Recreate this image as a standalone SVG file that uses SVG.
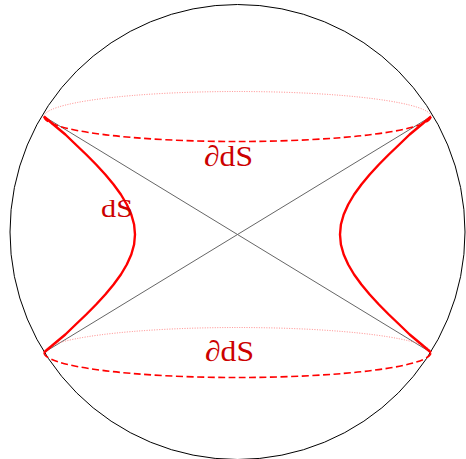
<svg xmlns="http://www.w3.org/2000/svg" width="466" height="459" viewBox="0 0 466 459">
<style>
.back{fill:none;stroke:#ff6666;stroke-width:0.8;stroke-dasharray:1,1.5}
.front{fill:none;stroke:#ff0000;stroke-width:1.6;stroke-dasharray:7,3.5}
.hyp{fill:none;stroke:#ff0000;stroke-width:2.4;stroke-linejoin:round}
.lbl{font-family:"Liberation Serif","DejaVu Serif",serif;font-size:29px;fill:#cc0000}
</style>
<rect width="466" height="459" fill="#ffffff"/>
<g id="sphere"><circle cx="237.5" cy="232" r="227.5" fill="none" stroke="#000" stroke-width="1"/></g>
<g id="connectors">
<line x1="44" y1="116.5" x2="431" y2="352.5" stroke="#666" stroke-width="1"/>
<line x1="431" y1="116.5" x2="44" y2="352.5" stroke="#666" stroke-width="1"/>
</g>
<g id="top-boundary">
<path class="back" d="M44,116.5 A193.5,25 0 0 1 431,116.5"/>
<path class="front" d="M44,116.5 A193.5,25 0 0 0 431,116.5"/>
</g>
<g id="bottom-boundary">
<path class="back" d="M44,352.5 A193.5,25 0 0 1 431,352.5"/>
<path class="front" d="M44,352.5 A193.5,25 0 0 0 431,352.5"/>
</g>
<g id="dS-left">
<polyline class="hyp" points="44,116.5 53.35,124.5 65.35,134.5 75.7,144.5 86.2,154.5 96.1,164.5 105.3,174.5 113.6,184.5 120.9,194.5 126.8,204.5 131.3,214.5 134.1,224.5 135,234.5 134.1,244.5 131.3,254.5 126.8,264.5 120.9,274.5 113.6,284.5 105.3,294.5 96.1,304.5 86.2,314.5 75.7,324.5 65.35,334.5 53.35,344.5 44,352.5"/>
</g>
<g id="dS-right">
<polyline class="hyp" points="431,116.5 421.65,124.5 409.65,134.5 399.3,144.5 388.8,154.5 378.9,164.5 369.7,174.5 361.4,184.5 354.1,194.5 348.2,204.5 343.7,214.5 340.9,224.5 340,234.5 340.9,244.5 343.7,254.5 348.2,264.5 354.1,274.5 361.4,284.5 369.7,294.5 378.9,304.5 388.8,314.5 399.3,324.5 409.65,334.5 421.65,344.5 431,352.5"/>
</g>
<g id="labels">
<text class="lbl" x="204" y="165.5" textLength="49" lengthAdjust="spacingAndGlyphs">∂dS</text>
<text class="lbl" x="101" y="217" textLength="32" lengthAdjust="spacingAndGlyphs" style="font-size:26px">dS</text>
<text class="lbl" x="205" y="360.5" textLength="49" lengthAdjust="spacingAndGlyphs">∂dS</text>
</g>
</svg>
